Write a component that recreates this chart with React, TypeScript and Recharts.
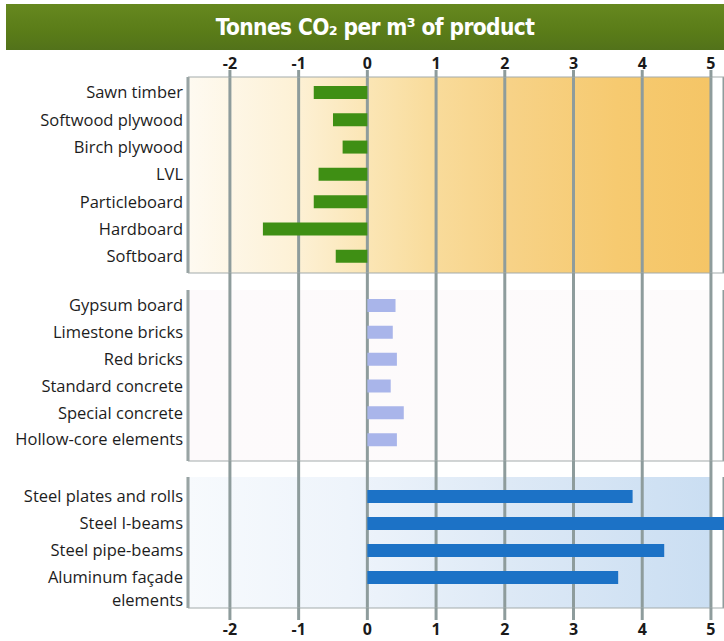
import React from 'react';
import { BarChart, Bar, XAxis, YAxis, CartesianGrid } from 'recharts';

const xTicks = [-2, -1, 0, 1, 2, 3, 4, 5];

const woodProducts = [
  'Sawn timber',
  'Softwood plywood',
  'Birch plywood',
  'LVL',
  'Particleboard',
  'Hardboard',
  'Softboard',
];
const woodValues = [-0.78, -0.5, -0.36, -0.71, -0.78, -1.52, -0.46];

const mineralProducts = [
  'Gypsum board',
  'Limestone bricks',
  'Red bricks',
  'Standard concrete',
  'Special concrete',
  'Hollow-core elements',
];
const mineralValues = [0.41, 0.37, 0.43, 0.34, 0.53, 0.43];

const metalProducts = [
  'Steel plates and rolls',
  'Steel I-beams',
  'Steel pipe-beams',
  'Aluminum façade\nelements',
];
const metalValues = [3.86, 5.2, 4.32, 3.65];

const DOMAIN: [number, number] = [-2.61, 5.19];
const GRID = '#8e9c9c';
const BORDER = '#a3abab';
const FONT = '"Open Sans", sans-serif';

// category labels, one <text> per line so the second line sits under the first
const RowLabel = (props: any) => {
  const { x, y, payload } = props;
  const lines = String(payload.value).split('\n');
  return (
    <g>
      {lines.map((l, i) => (
        <text
          key={i}
          x={x}
          y={y + i * 23}
          dy="0.35em"
          textAnchor="end"
          fontSize={16.5}
          fill="#1d1d1d"
          fontFamily={FONT}
        >
          {l}
        </text>
      ))}
    </g>
  );
};

const numTick = { fontSize: 16, fontWeight: 700, fill: '#1a1a1a', fontFamily: FONT };
const blank = () => '';

interface PanelProps {
  names: string[];
  values: number[];
  color: string;
  fill: string;
  height: number;
  pad: { top: number; bottom: number };
  topLabels?: boolean;
  bottomLabels?: boolean;
  gapBelow: number;
  gradient: React.ReactNode;
}

function Panel({ names, values, color, fill, height, pad, topLabels, bottomLabels, gapBelow, gradient }: PanelProps) {
  const data = names.map((name, i) => ({ name, value: values[i] }));
  return (
    <BarChart
      width={724}
      height={height}
      data={data}
      layout="vertical"
      margin={{ top: 0, right: 0, bottom: 0, left: 0 }}
      barSize={13}
    >
      <defs>{gradient}</defs>
      <CartesianGrid
        xAxisId="b"
        horizontal={false}
        stroke={GRID}
        strokeWidth={3}
        fill={fill}
        fillOpacity={1}
      />
      <XAxis
        type="number"
        domain={DOMAIN}
        ticks={xTicks}
        allowDataOverflow
        orientation="top"
        height={topLabels ? 27 : 0}
        tickSize={topLabels ? 7 : 0}
        tickMargin={1}
        tickLine={topLabels ? { stroke: GRID, strokeWidth: 3 } : false}
        tick={topLabels ? numTick : false}
        axisLine={{ stroke: BORDER }}
      />
      <XAxis
        xAxisId="b"
        type="number"
        domain={DOMAIN}
        ticks={xTicks}
        allowDataOverflow
        orientation="bottom"
        height={gapBelow}
        tickSize={bottomLabels ? 12 : gapBelow}
        tickMargin={4}
        tickLine={{ stroke: GRID, strokeWidth: 3 }}
        tick={numTick}
        tickFormatter={bottomLabels ? undefined : blank}
        axisLine={{ stroke: BORDER }}
      />
      <YAxis
        type="category"
        dataKey="name"
        width={188}
        padding={pad}
        tickLine={false}
        tickSize={0}
        tickMargin={5}
        axisLine={{ stroke: BORDER }}
        tick={<RowLabel />}
        interval={0}
      />
      <Bar dataKey="value" xAxisId="b" fill={color} isAnimationActive={false} />
    </BarChart>
  );
}

export default function App() {
  return (
    <div
      style={{
        position: 'absolute',
        left: 0,
        top: 0,
        width: 724,
        height: 641,
        overflow: 'hidden',
        background: '#ffffff',
      }}
    >
      <div
        style={{
          position: 'absolute',
          left: 6,
          top: 4,
          width: 718,
          height: 46,
          background: 'linear-gradient(180deg, #66881f 0%, #5a7c18 60%, #52721a 100%)',
          color: '#ffffff',
          fontFamily: '"DejaVu Sans Condensed", "DejaVu Sans", sans-serif',
          fontWeight: 700,
          fontSize: 22.5,
          lineHeight: '46px',
          textAlign: 'center',
          paddingLeft: 20,
          boxSizing: 'border-box',
          letterSpacing: -0.6,
          fontStretch: 'condensed',
        }}
      >
        Tonnes CO₂ per m³ of product
      </div>
      <div style={{ position: 'absolute', left: 0, top: 50 }}>
        <Panel
          names={woodProducts}
          values={woodValues}
          color="#3f8f14"
          fill="url(#woodBg)"
          height={240}
          pad={{ top: 2, bottom: 3 }}
          topLabels
          gapBelow={17}
          gradient={
            <linearGradient id="woodBg" x1="0" y1="0" x2="1" y2="0">
              <stop offset="0" stopColor="#fefaf1" />
              <stop offset="0.2" stopColor="#fdf1d6" />
              <stop offset="0.33" stopColor="#fbe6b6" />
              <stop offset="0.45" stopColor="#f9dc9c" />
              <stop offset="0.6" stopColor="#f7d287" />
              <stop offset="0.8" stopColor="#f6ca70" />
              <stop offset="0.975" stopColor="#f5c566" />
              <stop offset="0.976" stopColor="#ffffff" />
              <stop offset="1" stopColor="#ffffff" />
            </linearGradient>
          }
        />
      </div>
      <div style={{ position: 'absolute', left: 0, top: 290 }}>
        <Panel
          names={mineralProducts}
          values={mineralValues}
          color="#a9b5ea"
          fill="url(#mineralBg)"
          height={187}
          pad={{ top: 2, bottom: 8 }}
          gapBelow={16}
          gradient={
            <linearGradient id="mineralBg" x1="0" y1="0" x2="1" y2="0">
              <stop offset="0" stopColor="#fdfafb" />
              <stop offset="0.975" stopColor="#fdfbfb" />
              <stop offset="0.976" stopColor="#ffffff" />
              <stop offset="1" stopColor="#ffffff" />
            </linearGradient>
          }
        />
      </div>
      <div style={{ position: 'absolute', left: 0, top: 477 }}>
        <Panel
          names={metalProducts}
          values={metalValues}
          color="#1c72c6"
          fill="url(#metalBg)"
          height={164}
          pad={{ top: 6, bottom: 17 }}
          bottomLabels
          gapBelow={33}
          gradient={
            <linearGradient id="metalBg" x1="0" y1="0" x2="1" y2="0">
              <stop offset="0" stopColor="#f7fafd" />
              <stop offset="0.3" stopColor="#eef4fb" />
              <stop offset="0.6" stopColor="#dde9f6" />
              <stop offset="0.975" stopColor="#cadef2" />
              <stop offset="0.976" stopColor="#ffffff" />
              <stop offset="1" stopColor="#ffffff" />
            </linearGradient>
          }
        />
      </div>
    </div>
  );
}
